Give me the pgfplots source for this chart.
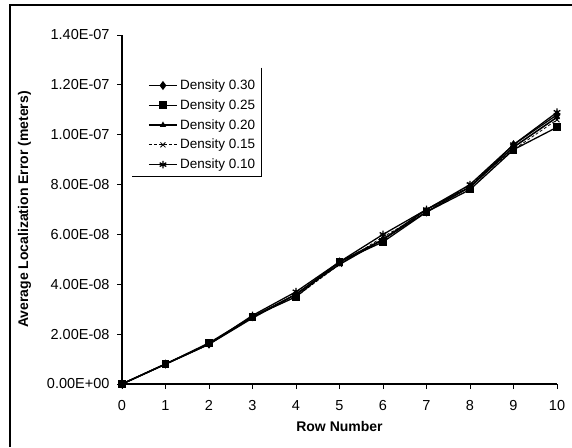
\documentclass[border=0pt]{standalone}
\usepackage{pgfplots}
\pgfplotsset{compat=1.18}
\usepackage{fontspec}
\setmainfont{Liberation Sans}
\begin{document}
\begin{tikzpicture}[x=1pt,y=1pt]
\path[use as bounding box] (0,0) rectangle (572,-447);
% outer chart frame (scan shows left and top edges)
\draw[line width=1.6pt] (10,-447) -- (10,-5) -- (572,-5);

\begin{axis}[
    at={(122pt,-384pt)}, anchor=south west,
    scale only axis,
    width=435pt, height=349pt,
    xmin=0, xmax=10,
    ymin=0, ymax=1.4e-7,
    axis x line=bottom, axis y line=left,
    axis line style={-, line width=1.2pt},
    xtick={0,1,...,10},
    ytick={0,2e-8,4e-8,6e-8,8e-8,1e-7,1.2e-7,1.4e-7},
    yticklabels={0.00E+00,2.00E-08,4.00E-08,6.00E-08,8.00E-08,1.00E-07,1.20E-07,1.40E-07},
    scaled y ticks=false,
    tick align=outside,
    major tick length=5pt,
    tick style={line width=1pt, black},
    /pgf/number format/assume math mode=true,
    ticklabel style={font=\fontsize{14.5}{16}\selectfont},
    xticklabel style={yshift=-8pt},
    yticklabel style={xshift=-4pt},
    xlabel={\textbf{Row Number}},
    ylabel={\textbf{Average Localization Error (meters)}},
    label style={font=\fontsize{14}{16}\selectfont},
    xlabel style={yshift=-4pt},
    ylabel style={yshift=9pt},
    clip=false,
    legend cell align=left,
    legend style={name=leg, draw=none, at={(axis cs:0.5,1.245e-7)}, anchor=north west,
        font=\fontsize{13.5}{15}\selectfont, row sep=4.5pt, inner sep=4pt},
    legend image code/.code={
        \draw[mark repeat=2, mark phase=2] plot coordinates {(0cm,0cm) (0.5cm,0cm) (1.0cm,0cm)};},
]
\addplot[black, line width=1.3pt, mark=diamond*, mark size=3.5pt] coordinates {
    (0,0) (1,8.0e-9) (2,1.60e-8) (3,2.70e-8) (4,3.60e-8) (5,4.90e-8)
    (6,5.80e-8) (7,6.90e-8) (8,7.90e-8) (9,9.60e-8) (10,1.08e-7)};
\addlegendentry{Density 0.30}
\addplot[black, line width=1.3pt, mark=square*, mark size=3.2pt] coordinates {
    (0,0) (1,8.0e-9) (2,1.65e-8) (3,2.70e-8) (4,3.50e-8) (5,4.90e-8)
    (6,5.70e-8) (7,6.90e-8) (8,7.80e-8) (9,9.40e-8) (10,1.03e-7)};
\addlegendentry{Density 0.25}
\addplot[black, line width=1.6pt, mark=triangle*, mark size=2pt] coordinates {
    (0,0) (1,8.0e-9) (2,1.60e-8) (3,2.65e-8) (4,3.60e-8) (5,4.80e-8)
    (6,5.80e-8) (7,7.00e-8) (8,7.90e-8) (9,9.50e-8) (10,1.07e-7)};
\addlegendentry{Density 0.20}
\addplot[black, line width=0.8pt, densely dashed, mark=x, mark size=3.5pt,
    mark options={solid}] coordinates {
    (0,0) (1,8.0e-9) (2,1.60e-8) (3,2.70e-8) (4,3.50e-8) (5,4.80e-8)
    (6,5.90e-8) (7,6.90e-8) (8,8.00e-8) (9,9.40e-8) (10,1.06e-7)};
\addlegendentry{Density 0.15}
\addplot[black, line width=1.3pt, mark=asterisk, mark size=3.8pt,
    mark options={line width=1.3pt}] coordinates {
    (0,0) (1,8.0e-9) (2,1.60e-8) (3,2.75e-8) (4,3.70e-8) (5,4.90e-8)
    (6,6.00e-8) (7,7.00e-8) (8,8.00e-8) (9,9.60e-8) (10,1.09e-7)};
\addlegendentry{Density 0.10}
\end{axis}
% legend frame: only right and bottom edges survive in the scan
\draw[line width=1pt] ([yshift=6pt]leg.north east) -- (leg.south east) -- ([xshift=-12pt]leg.south west);
\end{tikzpicture}
\end{document}
